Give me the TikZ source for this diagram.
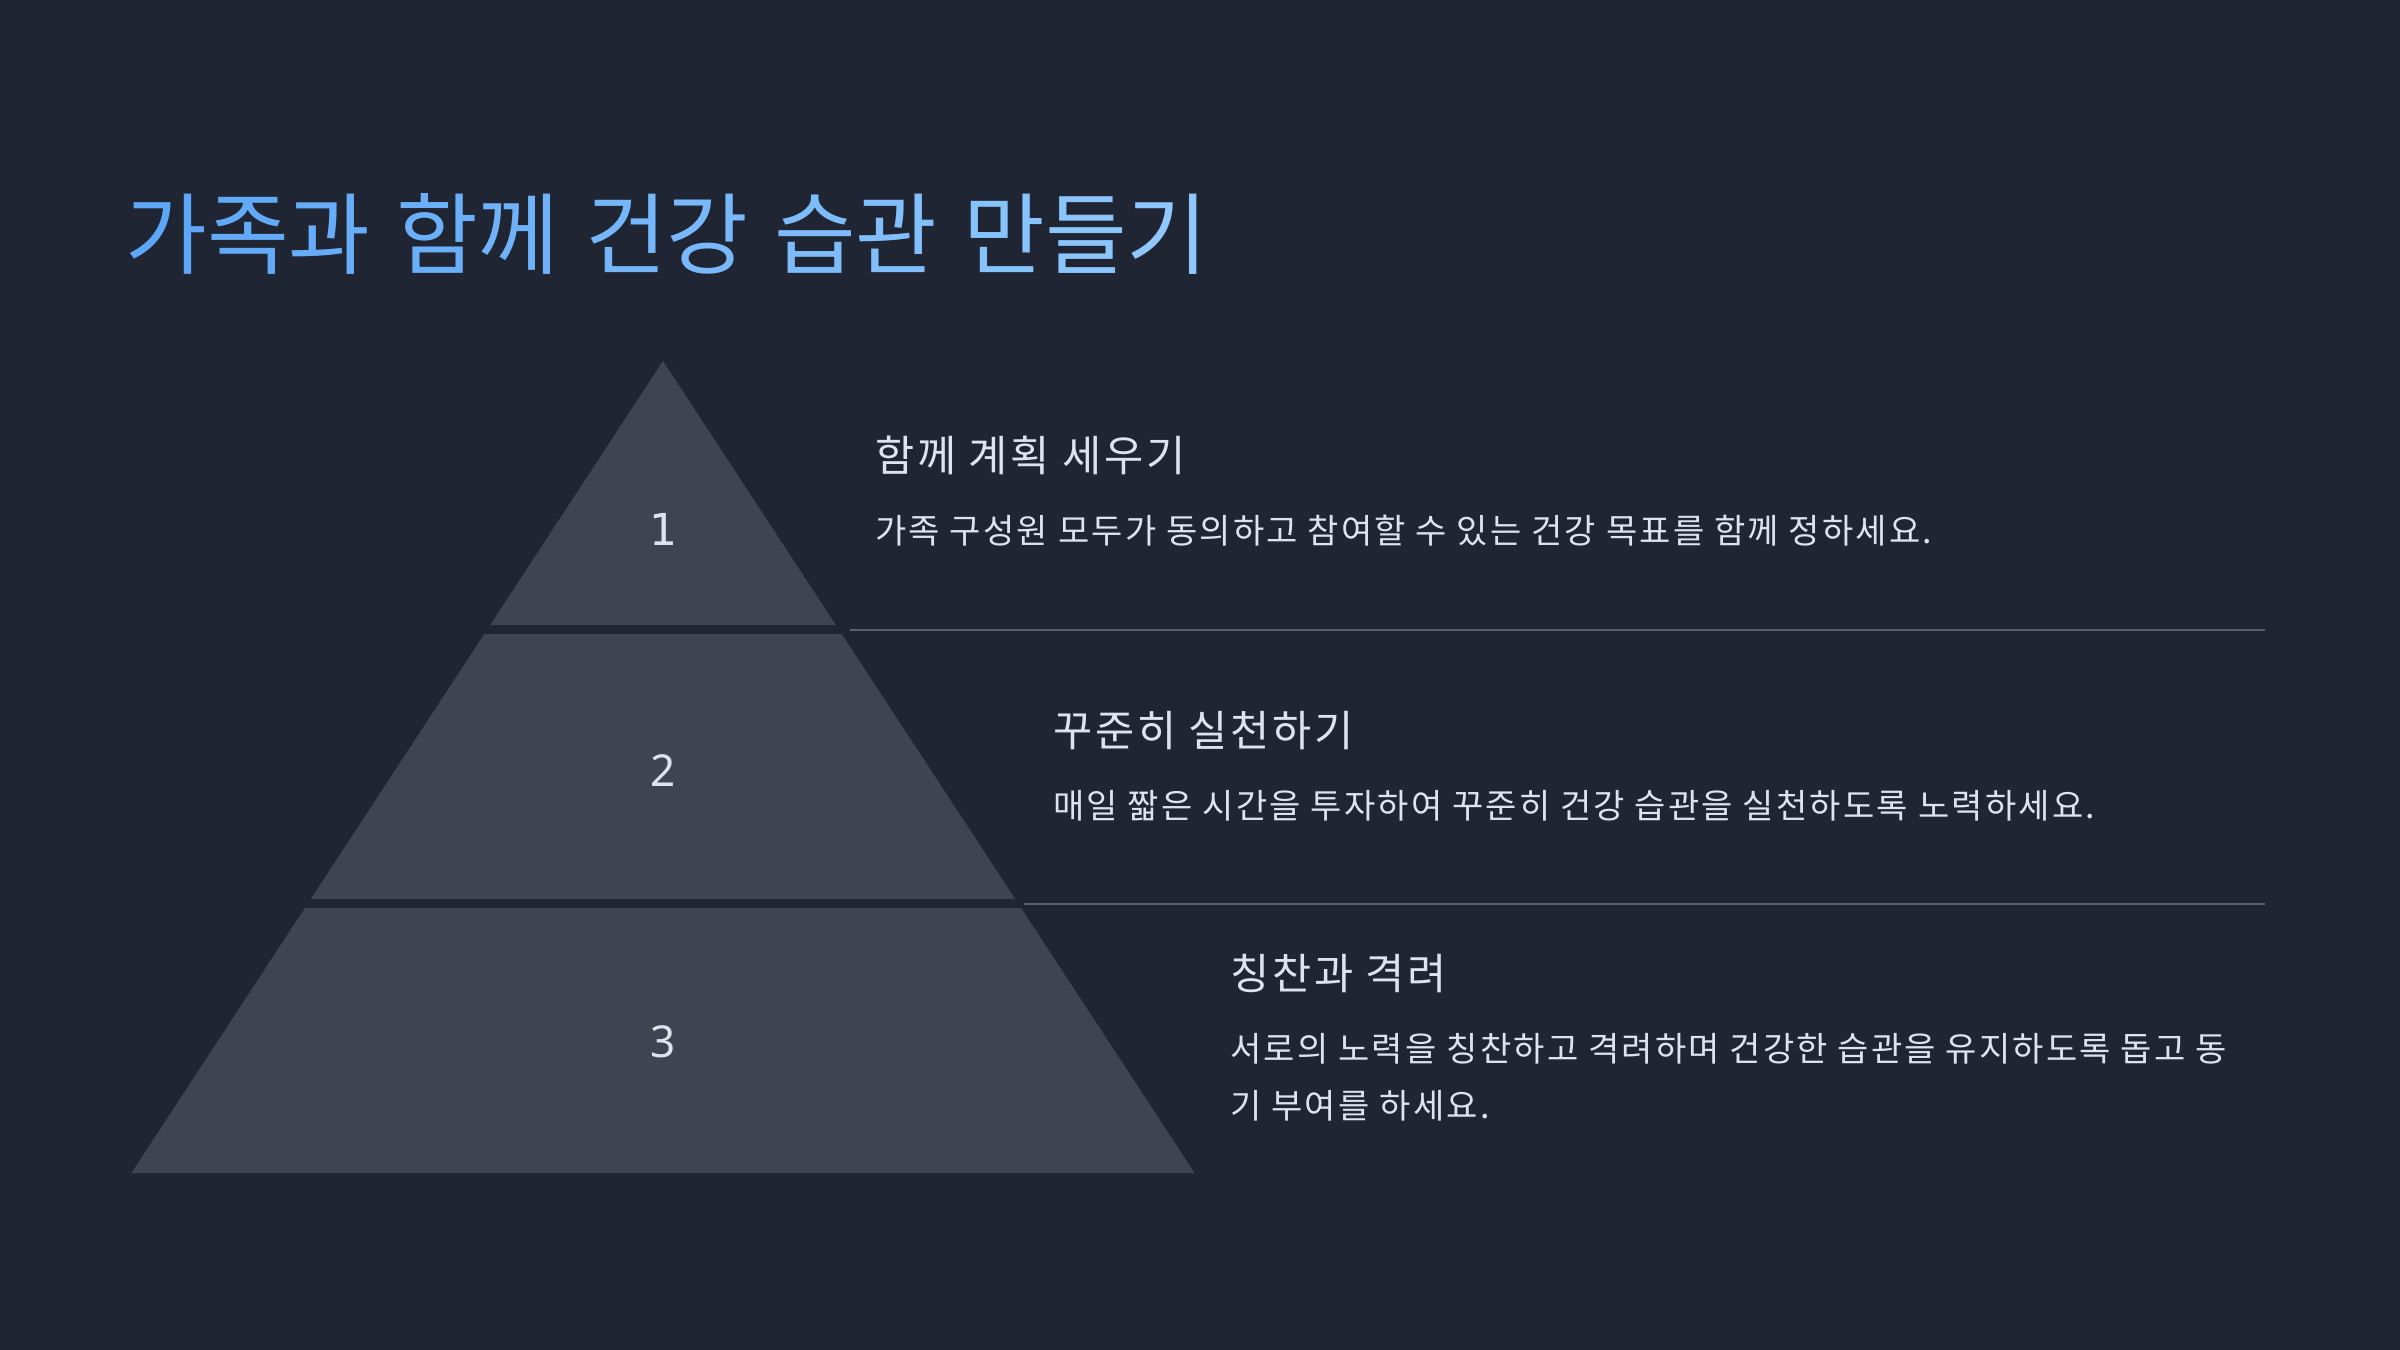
\documentclass[tikz,border=0pt]{standalone}
\usepackage{fontspec}
\newfontfamily\kr[LetterSpace=6.5]{Noto Sans CJK KR}
\newfontfamily\numsans{Noto Sans}
\newfontfamily\numone{DejaVu Sans}
\definecolor{bg}{HTML}{1F2532}
\definecolor{tier}{HTML}{3E4450}
\definecolor{txt}{HTML}{DCE5EF}
\definecolor{rule}{HTML}{5B616C}
\definecolor{tl}{HTML}{5EA6F8}
\definecolor{tr}{HTML}{90C8FD}
\newcommand{\tc}[2]{\textcolor{tr!#1!tl}{#2}}
\tikzset{
  tierbox/.style={fill=tier, draw=none},
  sep/.style={draw=rule, line width=1pt},
  head/.style={anchor=base west, inner sep=0pt, text=txt, font=\kr\fontsize{21.3}{24}\selectfont},
  body/.style={anchor=base west, inner sep=0pt, text=txt, font=\kr\fontsize{17}{28.5}\selectfont},
  num/.style={anchor=base, inner sep=0pt, text=txt, font=\numsans\fontsize{22}{26}\selectfont},
}
\begin{document}
\begin{tikzpicture}[x=0.5pt, y=-0.5pt]
\fill[bg] (0,0) rectangle (2400,1350);
\useasboundingbox (0,0) rectangle (2400,1350);
% title
\node[anchor=base west, inner sep=0pt, font=\kr\fontsize{44.4}{48}\selectfont] (title) at (125,267)
  {\tc{0}{가}\tc{9}{족}\tc{18}{과} \tc{27}{함}\tc{36}{께} \tc{45}{건}\tc{54}{강} \tc{63}{습}\tc{72}{관} \tc{81}{만}\tc{90}{들}\tc{100}{기}};
% pyramid tiers
\fill[tierbox] (663,361) -- (835.8,625) -- (490.2,625) -- cycle;
\fill[tierbox] (484.3,634) -- (841.7,634) -- (1015.2,899) -- (310.8,899) -- cycle;
\fill[tierbox] (304.9,908) -- (1021.1,908) -- (1194.6,1173) -- (131.4,1173) -- cycle;
\node[num, font=\numone\fontsize{22}{26}\selectfont] (n1) at (663,545) {1};
\node[num] (n2) at (663,786) {2};
\node[num] (n3) at (663,1057) {3};
% separators
\coordinate (s1a) at (850,630);
\coordinate (s1b) at (2265,630);
\coordinate (s2a) at (1024,904);
\coordinate (s2b) at (2265,904);
\draw[sep] (s1a) -- (s1b);
\draw[sep] (s2a) -- (s2b);
% texts
\node[head] (h1) at (875,471) {함께 계획 세우기};
\node[body] (b1) at (875,543) {가족 구성원 모두가 동의하고 참여할 수 있는 건강 목표를 함께 정하세요.};
\node[head] (h2) at (1053,746) {꾸준히 실천하기};
\node[body] (b2) at (1053,818) {매일 짧은 시간을 투자하여 꾸준히 건강 습관을 실천하도록 노력하세요.};
\node[head] (h3) at (1230,989) {칭찬과 격려};
\node[body] (b3) at (1230,1061) {서로의 노력을 칭찬하고 격려하며 건강한 습관을 유지하도록 돕고 동};
\node[body] (b3c) at (1230,1118) {기 부여를 하세요.};
\end{tikzpicture}
\end{document}
